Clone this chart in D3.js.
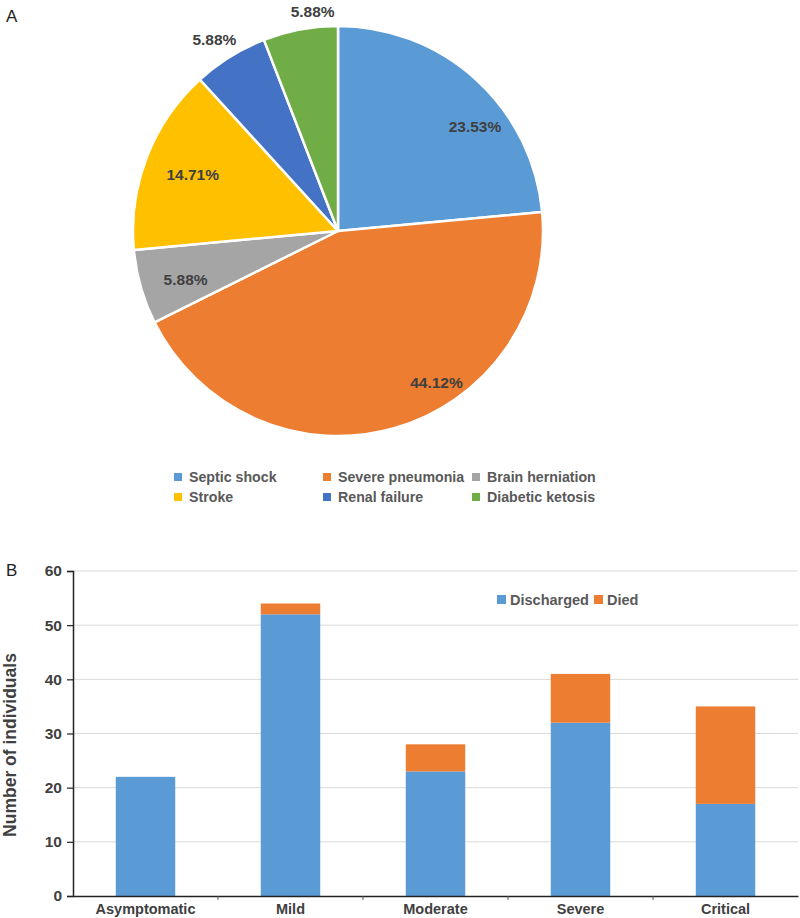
<!DOCTYPE html>
<html>
<head>
<meta charset="utf-8">
<script src="https://cdn.jsdelivr.net/npm/d3@7/dist/d3.min.js"></script>
<style>
  body { margin: 0; background: #fff; }
  svg { display: block; font-family: "Liberation Sans", Arial, sans-serif; }
</style>
</head>
<body>
<svg id="chart" width="800" height="918"></svg>
<script>
// ---- Panel A data ----
const causes = ["Septic shock", "Severe pneumonia", "Brain herniation", "Stroke", "Renal failure", "Diabetic ketosis"];
const causeCounts = [8, 15, 2, 5, 2, 2];
const causeLabels = ["23.53%", "44.12%", "5.88%", "14.71%", "5.88%", "5.88%"];
const causeColors = ["#5B9BD5", "#ED7D31", "#A5A5A5", "#FFC000", "#4472C4", "#70AD47"];

// ---- Panel B data ----
const severities = ["Asymptomatic", "Mild", "Moderate", "Severe", "Critical"];
const discharged = [22, 52, 23, 32, 17];
const died = [0, 2, 5, 9, 18];
const yTicks = [0, 10, 20, 30, 40, 50, 60];
const outcomeNames = ["Discharged", "Died"];
const outcomeColors = ["#5B9BD5", "#ED7D31"];

const svg = d3.select("#chart");
const textColor = "#404040";

// ================= Panel A =================
svg.append("text").attr("x", 6).attr("y", 22).attr("font-size", 17).attr("fill", "#222").text("A");

const cx = 338, cy = 231, R = 205;
const gPie = svg.append("g").attr("transform", `translate(${cx},${cy})`);
const pie = d3.pie().sort(null).value(d => d.v);
const pieData = pie(causes.map((c, i) => ({ name: c, v: causeCounts[i], label: causeLabels[i], color: causeColors[i] })));
const arc = d3.arc().innerRadius(0).outerRadius(R);

gPie.selectAll("path").data(pieData).join("path")
  .attr("d", arc)
  .attr("fill", d => d.data.color)
  .attr("stroke", "#fff")
  .attr("stroke-width", 2.5)
  .attr("stroke-linejoin", "round");

// label placement (Excel "best fit" style): radius factor and angular shift per slice
const labelRadius = [0.84, 0.88, 0.78, 0.76, 1.11, 1.08];
const labelShift = [0.18, -0.30, -0.03, 0.0, -0.02, 0.07];
gPie.selectAll("text.pl").data(pieData).join("text")
  .attr("class", "pl")
  .attr("transform", (d, i) => {
    const a = (d.startAngle + d.endAngle) / 2 + labelShift[i];
    const r = R * labelRadius[i];
    return `translate(${r * Math.sin(a)},${-r * Math.cos(a)})`;
  })
  .attr("text-anchor", "middle")
  .attr("dominant-baseline", "central")
  .attr("font-size", 15.5)
  .attr("font-weight", "bold")
  .attr("fill", textColor)
  .text(d => d.data.label);

// legend A
const legA = svg.append("g");
const legCols = [178, 327, 476];
const legRows = [477, 497];
causes.forEach((c, i) => {
  const lx = legCols[i % 3], ly = legRows[Math.floor(i / 3)];
  legA.append("rect").attr("x", lx - 4).attr("y", ly - 4).attr("width", 8).attr("height", 8).attr("fill", causeColors[i]);
  legA.append("text").attr("x", lx + 11).attr("y", ly).attr("dominant-baseline", "central")
    .attr("font-size", 14.2).attr("font-weight", "bold").attr("fill", "#595959").text(c);
});

// ================= Panel B =================
svg.append("text").attr("x", 6).attr("y", 576).attr("font-size", 17).attr("fill", "#222").text("B");

const pLeft = 73, pRight = 798, pTop = 571, pBottom = 896;
const x = d3.scaleBand().domain(severities).range([pLeft, pRight]).paddingInner(0.59).paddingOuter(0.295);
const xb = d3.scaleBand().domain(severities).range([pLeft, pRight]);
const y = d3.scaleLinear().domain([0, 60]).range([pBottom, pTop]);

// gridlines
svg.append("g").selectAll("line").data(yTicks.filter(t => t > 0)).join("line")
  .attr("x1", pLeft).attr("x2", pRight)
  .attr("y1", d => y(d)).attr("y2", d => y(d))
  .attr("stroke", "#D9D9D9").attr("stroke-width", 1);

// stacked bars
const rows = severities.map((s, i) => ({ cat: s, Discharged: discharged[i], Died: died[i] }));
const stack = d3.stack().keys(outcomeNames)(rows);
svg.append("g").selectAll("g").data(stack).join("g")
  .attr("fill", (d, i) => outcomeColors[i])
  .selectAll("rect").data(d => d).join("rect")
  .attr("x", d => x(d.data.cat))
  .attr("width", x.bandwidth())
  .attr("y", d => y(d[1]))
  .attr("height", d => y(d[0]) - y(d[1]));

// y axis
const yAxis = svg.append("g").attr("transform", `translate(${pLeft},0)`)
  .call(d3.axisLeft(y).tickValues(yTicks).tickSize(6).tickPadding(5));
yAxis.select(".domain").attr("stroke", "#222").attr("stroke-width", 1.5);
yAxis.selectAll(".tick line").attr("stroke", "#222").attr("stroke-width", 1.2);
yAxis.selectAll(".tick text").attr("font-size", 15.5).attr("font-weight", "bold").attr("fill", textColor)
  .attr("font-family", "Liberation Sans, Arial, sans-serif");

// x axis
const xAxis = svg.append("g").attr("transform", `translate(0,${pBottom})`)
  .call(d3.axisBottom(xb).tickSize(0).tickPadding(8));
xAxis.select(".domain").attr("stroke", "#222").attr("stroke-width", 1.5);
xAxis.selectAll(".tick text").attr("font-size", 14.5).attr("font-weight", "bold").attr("fill", textColor)
  .attr("font-family", "Liberation Sans, Arial, sans-serif");
// category boundary ticks
svg.append("g").selectAll("line").data(severities.slice(1)).join("line")
  .attr("x1", d => xb(d)).attr("x2", d => xb(d))
  .attr("y1", pBottom).attr("y2", pBottom + 4)
  .attr("stroke", "#555").attr("stroke-width", 1);

// y title
svg.append("text")
  .attr("transform", `translate(10,745) rotate(-90)`)
  .attr("text-anchor", "middle").attr("dominant-baseline", "central")
  .attr("font-size", 17.5).attr("font-weight", "bold").attr("fill", textColor)
  .text("Number of individuals");

// legend B
const legBx = [497, 594];
outcomeNames.forEach((n, i) => {
  svg.append("rect").attr("x", legBx[i]).attr("y", 595).attr("width", 9).attr("height", 9).attr("fill", outcomeColors[i]);
  svg.append("text").attr("x", legBx[i] + 13).attr("y", 600).attr("dominant-baseline", "central")
    .attr("font-size", 14.5).attr("font-weight", "bold").attr("fill", "#595959").text(n);
});
</script>
</body>
</html>
